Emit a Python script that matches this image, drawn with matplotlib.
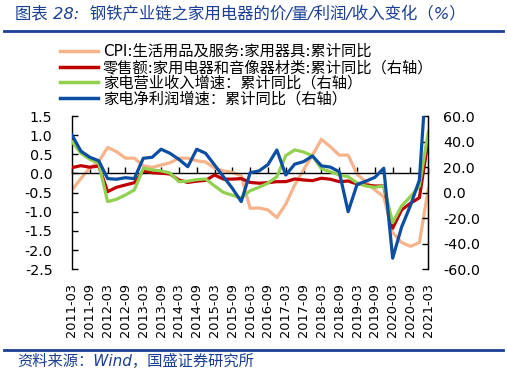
import numpy as np
import matplotlib
matplotlib.use("Agg")
import matplotlib.pyplot as plt
from matplotlib.lines import Line2D

plt.rcParams['font.family'] = ['DejaVu Sans', 'Noto Sans CJK SC']

# quarterly, 2011-03 .. 2021-03
tick_labels = ["2011-03", "2011-09", "2012-03", "2012-09", "2013-03", "2013-09",
               "2014-03", "2014-09", "2015-03", "2015-09", "2016-03", "2016-09",
               "2017-03", "2017-09", "2018-03", "2018-09", "2019-03", "2019-09",
               "2020-03", "2020-09", "2021-03"]

cpi = [-0.43, -0.13, 0.14, 0.31, 0.68, 0.57, 0.40, 0.40, 0.20, 0.16,
       0.22, 0.28, 0.40, 0.40, 0.33, 0.30, 0.14, 0.07, 0.03, -0.06,
       -0.91, -0.90, -0.95, -1.15, -0.80, -0.30, 0.10, 0.48, 0.89, 0.70,
       0.48, 0.48, -0.02, -0.22, -0.43, -0.61, -1.54, -1.80, -1.90, -1.80,
       -0.40]

retail = [19.6, 21.1, 19.9, 20.9, 0.8, 4.2, 6.0, 7.8, 17.0, 15.6,
          15.2, 14.6, 9.9, 8.0, 9.0, 9.6, 13.8, 10.6, 10.6, 11.0,
          8.0, 7.4, 7.8, 8.6, 8.6, 10.7, 9.9, 9.4, 11.3, 10.5,
          8.6, 9.1, 6.8, 6.0, 5.2, 5.2, -27.8, -13.5, -8.3, -4.0,
          41.8]

revenue = [39.9, 30.8, 26.1, 23.0, -7.0, -5.2, -1.8, 2.1, 19.1, 17.8,
           17.0, 15.4, 8.6, 9.0, 10.2, 10.7, 5.3, 0.2, -2.0, -4.2,
           1.5, 4.2, 7.5, 12.5, 29.0, 33.5, 31.8, 28.8, 18.7, 16.4,
           13.8, 12.5, 7.6, 5.2, 4.2, 5.2, -23.5, -10.4, -3.1, 5.2,
           47.5]

profit = [45.1, 32.5, 27.7, 25.0, 11.0, 10.5, 11.7, 11.0, 26.9, 27.7,
          34.0, 30.8, 26.1, 20.3, 34.0, 30.8, 21.7, 12.5, 3.4, -7.0,
          15.6, 17.0, 22.0, 33.4, 13.8, 22.3, 24.3, 28.7, 21.0, 20.0,
          16.4, -14.9, 6.4, 9.0, 12.0, 19.1, -51.3, -27.0, -10.0, 9.9,
          115.0]

labels = ["CPI:生活用品及服务:家用器具:累计同比",
          "零售额:家用电器和音像器材类:累计同比（右轴）",
          "家电营业收入增速：累计同比（右轴）",
          "家电净利润增速：累计同比（右轴）"]

c_orange = '#F7B38A'
c_red = '#C00000'
c_green = '#92D050'
c_blue = '#0B4EA2'
title_blue = '#1A3F94'

W, H = 507, 375
fig = plt.figure(figsize=(W / 100, H / 100), dpi=100)
L, R, T, B = 72, 428.3, 116, 269.3
ax = fig.add_axes([L / W, 1 - B / H, (R - L) / W, (B - T) / H])
x = np.arange(len(cpi))

lw = 2.3
ax.plot(x, cpi, color=c_orange, lw=lw)
ax.set_xlim(0, len(cpi) - 1)
ax.set_ylim(-2.5, 1.5)
ax.set_yticks(np.arange(-2.5, 1.51, 0.5))
ax.yaxis.set_major_formatter(matplotlib.ticker.FormatStrFormatter('%.1f'))
ax.tick_params(axis='y', direction='in', length=4, width=1, labelsize=10.3, pad=14)

ax.spines['top'].set_visible(False)
ax.spines['bottom'].set_position(('data', 0))
ax.spines['bottom'].set_linewidth(1)
ax.spines['left'].set_linewidth(1)
ax.set_xticks(x[::2])
ax.tick_params(axis='x', direction='in', length=4, width=1, labelbottom=False)

sec = ax.secondary_xaxis('bottom')
sec.set_xticks(x[::2])
sec.set_xticklabels(tick_labels, rotation=90, fontsize=9.3)
sec.tick_params(length=0, pad=10)
sec.spines['bottom'].set_visible(False)

ax2 = ax.twinx()
ax2.plot(x, retail, color=c_red, lw=lw)
ax2.plot(x, revenue, color=c_green, lw=lw)
ax2.plot(x, profit, color=c_blue, lw=lw)
ax2.set_ylim(-60, 60)
ax2.set_yticks(np.arange(-60, 61, 20))
ax2.yaxis.set_major_formatter(matplotlib.ticker.FormatStrFormatter('%.1f'))
ax2.tick_params(axis='y', direction='in', length=4, width=1, labelsize=10.3, pad=10.5)
for s in ['top', 'bottom', 'left']:
    ax2.spines[s].set_visible(False)
ax2.spines['right'].set_linewidth(1)

handles = [Line2D([], [], color=c, lw=2.5) for c in [c_orange, c_red, c_green, c_blue]]
fig.legend(handles, labels, loc='upper left', bbox_to_anchor=(60 / W, 1 - 44 / H),
           frameon=False, borderpad=0, borderaxespad=0, handlelength=2.5,
           handletextpad=0.3, labelspacing=0.06,
           prop={'family': ['DejaVu Sans', 'Noto Sans CJK SC'], 'size': 11})

fig.text(15 / W, 1 - 14 / H, "图表 28:  钢铁产业链之家用电器的价/量/利润/收入变化（%）",
         color=title_blue, fontsize=11.8, style='italic', va='center', ha='left',
         family=['DejaVu Sans', 'Noto Sans CJK SC'])
fig.add_artist(Line2D([4 / W, 503 / W], [1 - 30.5 / H, 1 - 30.5 / H], color=title_blue, lw=2))
fig.add_artist(Line2D([4 / W, 503 / W], [1 - 350 / H, 1 - 350 / H], color=title_blue, lw=2))
fig.text(17 / W, 1 - 361 / H, "资料来源：Wind，国盛证券研究所", color=title_blue,
         fontsize=11, style='italic', va='center', ha='left',
         family=['DejaVu Sans', 'Noto Sans CJK SC'])

fig.savefig('out.png', dpi=100)
